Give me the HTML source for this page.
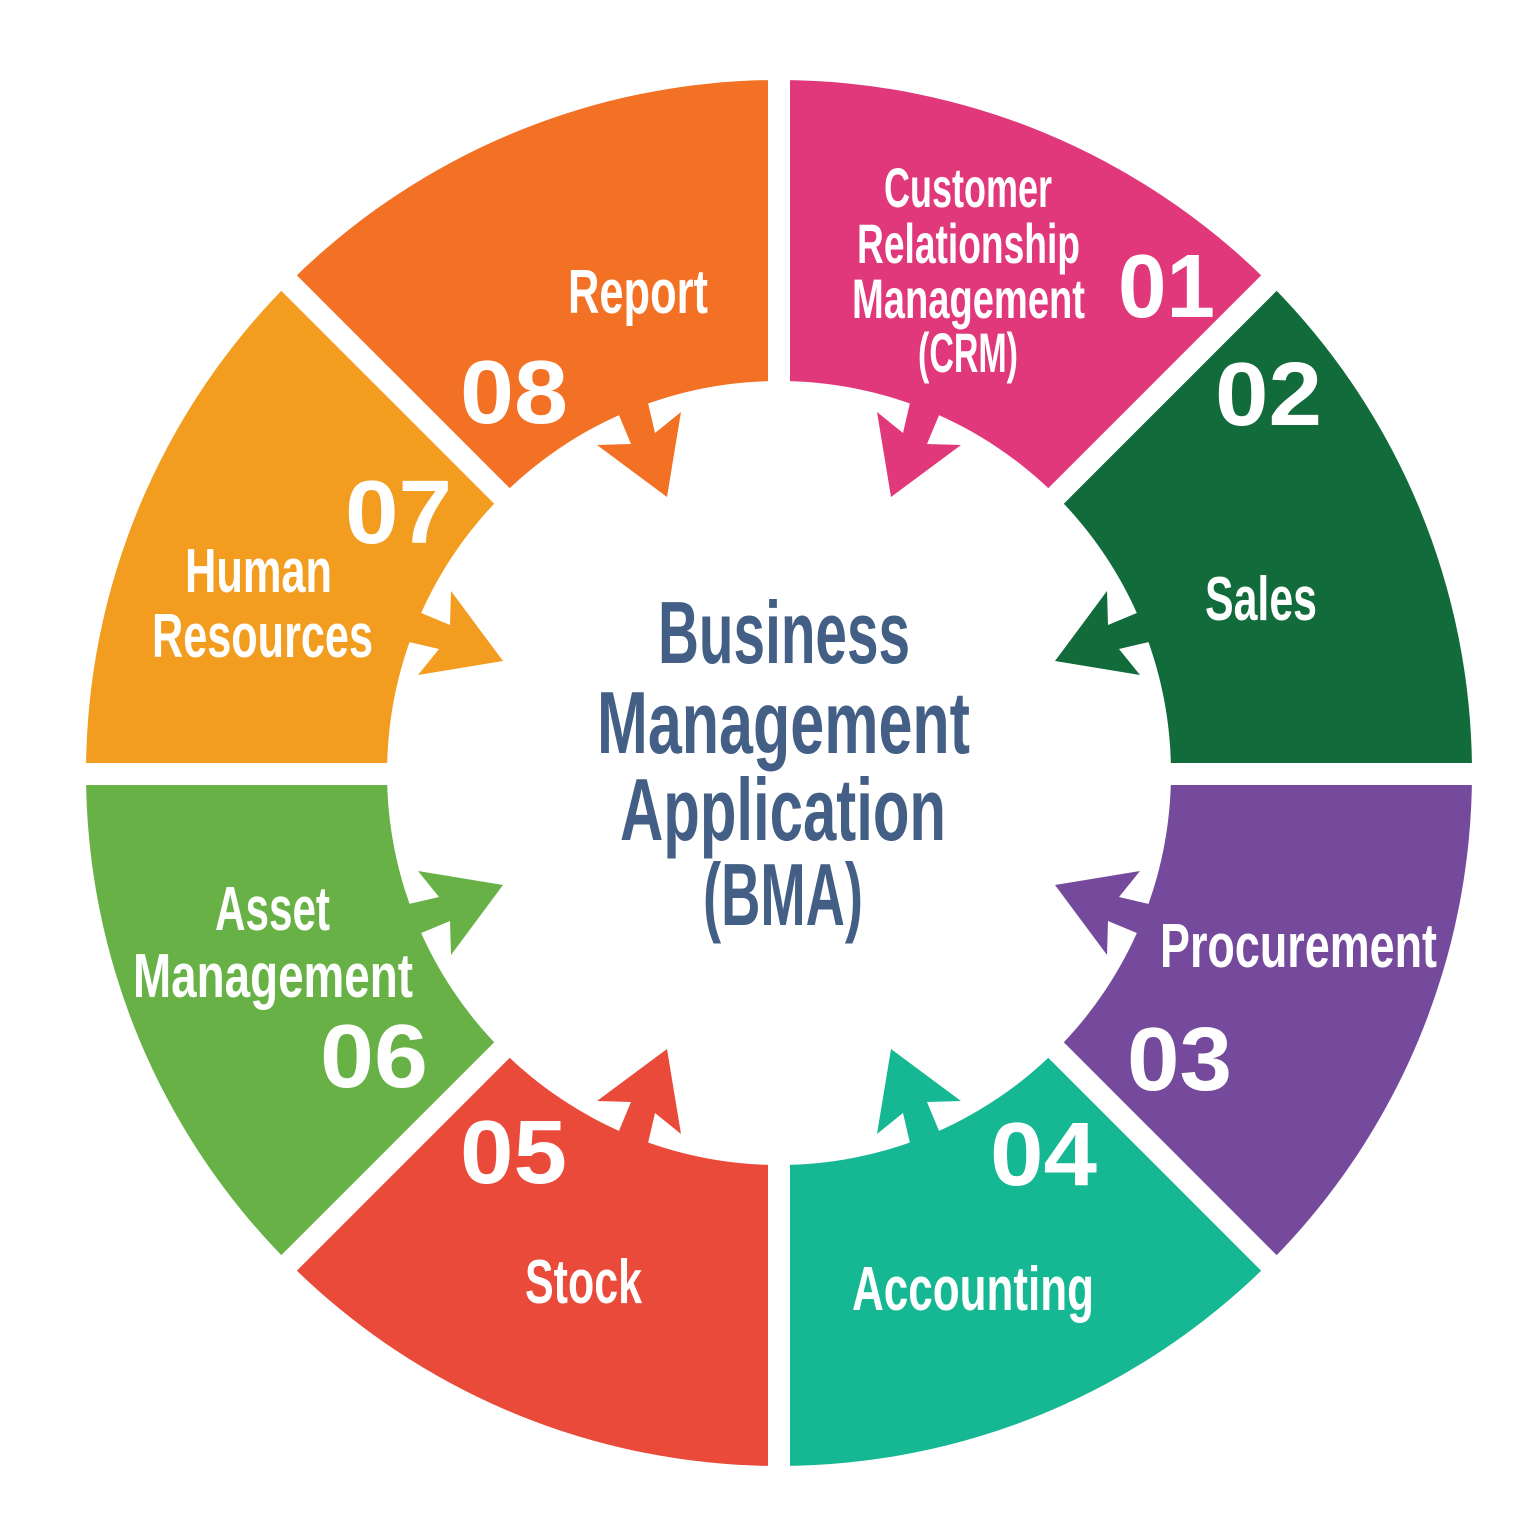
<!DOCTYPE html>
<html><head><meta charset="utf-8"><style>html,body{margin:0;padding:0;background:#fff}svg{display:block}</style></head>
<body>
<svg width="1536" height="1536" viewBox="0 0 1536 1536" xmlns="http://www.w3.org/2000/svg">
<defs>
<polygon id="arA" points="913,390 903,433 877,412 891,497 961,445 927,444 942,408"/>
</defs>
<g transform="translate(779,773)">
<path d="M0,0 L0,-693 A693,693 0 0 1 490,-490 Z" fill="#E0387A"/>
<path d="M0,0 L490,-490 A693,693 0 0 1 693,0 Z" fill="#116B3A"/>
<path d="M0,0 L693,0 A693,693 0 0 1 490,490 Z" fill="#754A9C"/>
<path d="M0,0 L490,490 A693,693 0 0 1 0,693 Z" fill="#15B892"/>
<path d="M0,0 L0,693 A693,693 0 0 1 -490,490 Z" fill="#E94A3A"/>
<path d="M0,0 L-490,490 A693,693 0 0 1 -693,0 Z" fill="#67B146"/>
<path d="M0,0 L-693,0 A693,693 0 0 1 -490,-490 Z" fill="#F29C20"/>
<path d="M0,0 L-490,-490 A693,693 0 0 1 0,-693 Z" fill="#F37124"/>
<circle r="392" fill="#fff"/>
</g>
<use href="#arA" fill="#E0387A"/>
<use href="#arA" fill="#754A9C" transform="rotate(90 779 773)"/>
<use href="#arA" fill="#E94A3A" transform="rotate(180 779 773)"/>
<use href="#arA" fill="#F29C20" transform="rotate(270 779 773)"/>
<g transform="translate(1558,0) scale(-1,1)">
<use href="#arA" fill="#F37124"/>
</g>
<g transform="rotate(90 779 773) translate(1558,0) scale(-1,1)"><use href="#arA" fill="#116B3A"/></g>
<g transform="rotate(180 779 773) translate(1558,0) scale(-1,1)"><use href="#arA" fill="#15B892"/></g>
<g transform="rotate(270 779 773) translate(1558,0) scale(-1,1)"><use href="#arA" fill="#67B146"/></g>
<g stroke="#fff" stroke-width="22">
<line x1="779" y1="60" x2="779" y2="1490"/>
<line x1="60" y1="774" x2="1500" y2="774"/>
<line x1="279" y1="273" x2="1279" y2="1273"/>
<line x1="1279" y1="273" x2="279" y2="1273"/>
</g>
<g font-family="'Liberation Sans Narrow','Liberation Sans',sans-serif" font-weight="bold" fill="#fff" font-size="56" lengthAdjust="spacingAndGlyphs">
<text x="884" y="207" textLength="168" lengthAdjust="spacingAndGlyphs">Customer</text>
<text x="857" y="263" textLength="223" lengthAdjust="spacingAndGlyphs">Relationship</text>
<text x="852" y="318" textLength="233" lengthAdjust="spacingAndGlyphs">Management</text>
<text x="918" y="372" textLength="100" lengthAdjust="spacingAndGlyphs">(CRM)</text>
<text x="1205" y="620" font-size="62" textLength="112" lengthAdjust="spacingAndGlyphs">Sales</text>
<text x="1160" y="967" font-size="62" textLength="277" lengthAdjust="spacingAndGlyphs">Procurement</text>
<text x="852" y="1310" font-size="62" textLength="242" lengthAdjust="spacingAndGlyphs">Accounting</text>
<text x="525" y="1303" font-size="62" textLength="117" lengthAdjust="spacingAndGlyphs">Stock</text>
<text x="215" y="930" font-size="62" textLength="115" lengthAdjust="spacingAndGlyphs">Asset</text>
<text x="133" y="997" font-size="62" textLength="280" lengthAdjust="spacingAndGlyphs">Management</text>
<text x="185" y="592" font-size="62" textLength="147" lengthAdjust="spacingAndGlyphs">Human</text>
<text x="152" y="657" font-size="62" textLength="221" lengthAdjust="spacingAndGlyphs">Resources</text>
<text x="568" y="313" font-size="62" textLength="140" lengthAdjust="spacingAndGlyphs">Report</text>
</g>
<g font-family="'Liberation Sans',sans-serif" font-weight="bold" fill="#fff" font-size="90">
<text x="1118" y="317" textLength="97" lengthAdjust="spacingAndGlyphs">01</text>
<text x="1215" y="425" textLength="107" lengthAdjust="spacingAndGlyphs">02</text>
<text x="1127" y="1090" textLength="105" lengthAdjust="spacingAndGlyphs">03</text>
<text x="990" y="1185" textLength="107" lengthAdjust="spacingAndGlyphs">04</text>
<text x="460" y="1183" textLength="107" lengthAdjust="spacingAndGlyphs">05</text>
<text x="320" y="1087" textLength="108" lengthAdjust="spacingAndGlyphs">06</text>
<text x="345" y="543" textLength="107" lengthAdjust="spacingAndGlyphs">07</text>
<text x="460" y="423" textLength="108" lengthAdjust="spacingAndGlyphs">08</text>
</g>
<g font-family="'Liberation Sans Narrow','Liberation Sans',sans-serif" font-weight="bold" fill="#445F85" font-size="88">
<text x="658" y="663" textLength="252" lengthAdjust="spacingAndGlyphs">Business</text>
<text x="597" y="753" textLength="373" lengthAdjust="spacingAndGlyphs">Management</text>
<text x="620" y="840" textLength="326" lengthAdjust="spacingAndGlyphs">Application</text>
<text x="703" y="925" textLength="160" lengthAdjust="spacingAndGlyphs">(BMA)</text>
</g>
</svg>
</body></html>
